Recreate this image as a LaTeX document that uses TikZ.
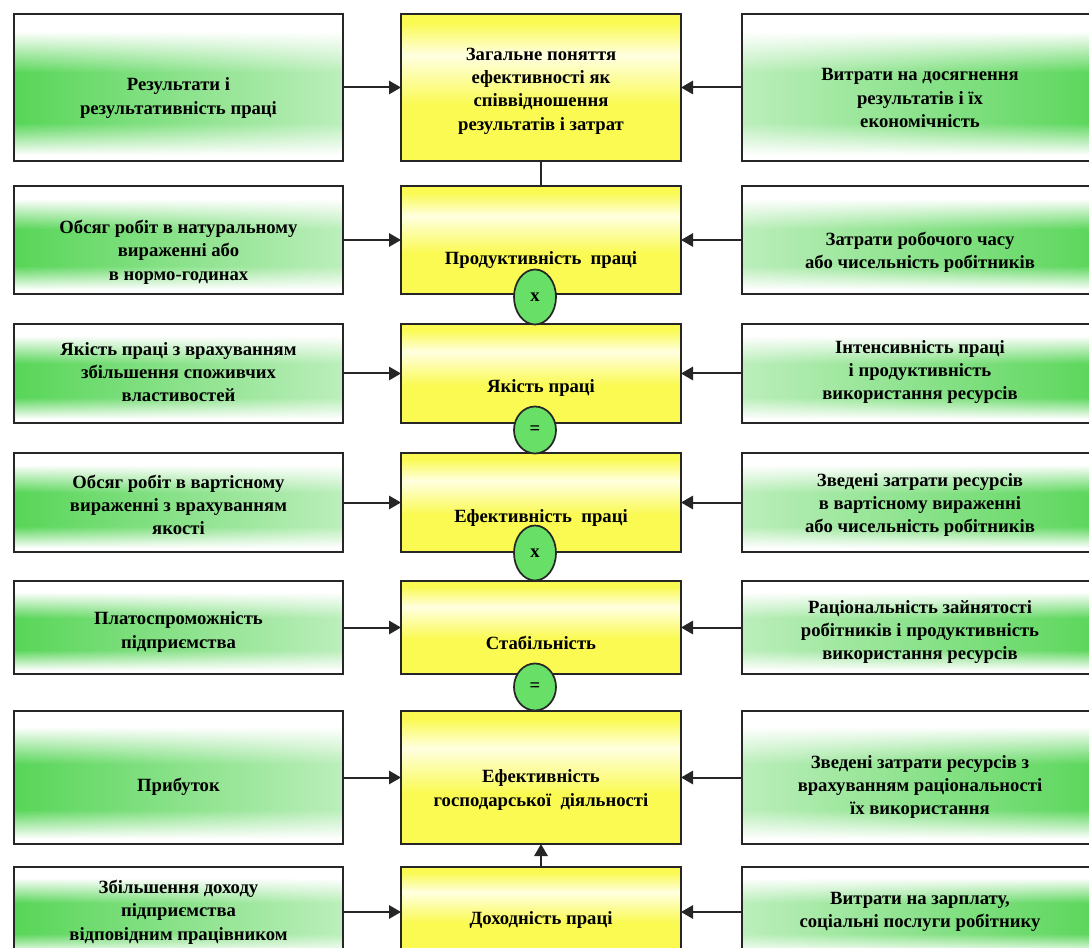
\documentclass[tikz,border=0pt]{standalone}
\usepackage{fontspec}
\setmainfont{Liberation Serif}
\usetikzlibrary{arrows.meta,shapes.geometric,fadings}

\definecolor{sidegreen}{RGB}{88,214,88}
\definecolor{ovalgreen}{RGB}{104,224,104}
\definecolor{boxyellow}{RGB}{250,250,82}
\definecolor{paleyellow}{RGB}{255,255,225}

\pgfdeclareverticalshading{greenband}{100bp}{color(0bp)=(white); color(27bp)=(white); color(38bp)=(sidegreen); color(55bp)=(sidegreen); color(69bp)=(white); color(100bp)=(white)}
\pgfdeclareverticalshading{yellowband}{100bp}{color(0bp)=(boxyellow); color(44bp)=(boxyellow); color(61bp)=(paleyellow); color(72bp)=(boxyellow); color(100bp)=(boxyellow)}

\tikzset{
	box/.style={rectangle, inner sep=0pt, outer sep=0pt, anchor=north west},
	boxline/.style={postaction={draw=black!85, line width=1.3pt}},
	leftbox/.style={box, shade, shading=greenband, minimum width=246.75pt,
		postaction={fill=white, fill opacity=.6, path fading=west}, boxline},
	rightbox/.style={box, shade, shading=greenband, minimum width=276pt,
		postaction={fill=white, fill opacity=.6, path fading=east}, boxline},
	midbox/.style={box, shade, shading=yellowband, minimum width=210pt, boxline},
	txt/.style={align=center, inner sep=0pt, font=\fontsize{14}{17.5}\selectfont\bfseries},
	conn/.style={draw=black!85, line width=1.5pt, -{Triangle[length=9pt,width=10pt]}},
	op/.style={ellipse, draw=black!85, line width=1.3pt, fill=ovalgreen, inner sep=0pt,
		minimum width=31.5pt, font=\fontsize{14}{16}\selectfont\bfseries}
}

\begin{document}
\begin{tikzpicture}[x=0.75pt,y=-0.75pt]
	\path[use as bounding box, clip] (0,0) rectangle (1089,948);
	\foreach \r/\t/\b/\sy/\cy/\lt/\ct/\rt in {%
		1/14/161/98/91/{Результати і\\результативність праці}/{Загальне поняття\\ефективності як\\співвідношення\\результатів і затрат}/{Витрати на досягнення\\результатів і їх\\економічність},%
		2/186/294/252/260/{Обсяг робіт в натуральному\\вираженні або\\в нормо-годинах}/{Продуктивність\ \ праці}/{Затрати робочого часу\\або чисельність робітників},%
		3/324/423/372/388/{Якість праці з врахуванням\\збільшення споживчих\\властивостей}/{Якість праці}/{Інтенсивність праці\\і продуктивність\\використання ресурсів},%
		4/453/552/505/518/{Обсяг робіт в вартісному\\вираженні з врахуванням\\якості}/{Ефективність\ \ праці}/{Зведені затрати ресурсів\\в вартісному вираженні\\або чисельність робітників},%
		5/581/674/632/643/{Платоспроможність\\підприємства}/{Стабільність}/{Раціональність зайнятості\\робітників і продуктивність\\використання ресурсів},%
		6/711/844/787/790/{Прибуток}/{Ефективність\\господарської\ \ діяльності}/{Зведені затрати ресурсів з\\врахуванням раціональності\\їх використання},%
		7/867/957/912/920/{Збільшення доходу\\підприємства\\відповідним працівником}/{Доходність праці}/{Витрати на зарплату,\\соціальні послуги робітнику}%
	}{
		\node[leftbox, minimum height={(\b-\t)*0.75pt}] (l\r) at (14,\t) {};
		\node[midbox, minimum height={(\b-\t)*0.75pt}] (c\r) at (401,\t) {};
		\node[rightbox, minimum height={(\b-\t)*0.75pt}] (r\r) at (742,\t) {};
		\node[txt] (lt\r) at (178.5,\sy) {\lt};
		\node[txt] (ct\r) at (541,\cy) {\ct};
		\node[txt] (rt\r) at (920,\sy) {\rt};
		\draw[conn] (l\r) -- (c\r);
		\draw[conn] (r\r) -- (c\r);
	}
	\draw[draw=black!85, line width=1.5pt] (c1) -- (c2);
	\draw[conn] (c7) -- (c6);
	% operation signs between the rows
	\foreach \i/\y/\s/\h in {1/297/x/55, 2/430/=/47, 3/553/x/55, 4/687/=/47}{
		\node[op, minimum height={\h*0.75pt}] (op\i) at (535,\y) {\s};
	}
\end{tikzpicture}
\end{document}
